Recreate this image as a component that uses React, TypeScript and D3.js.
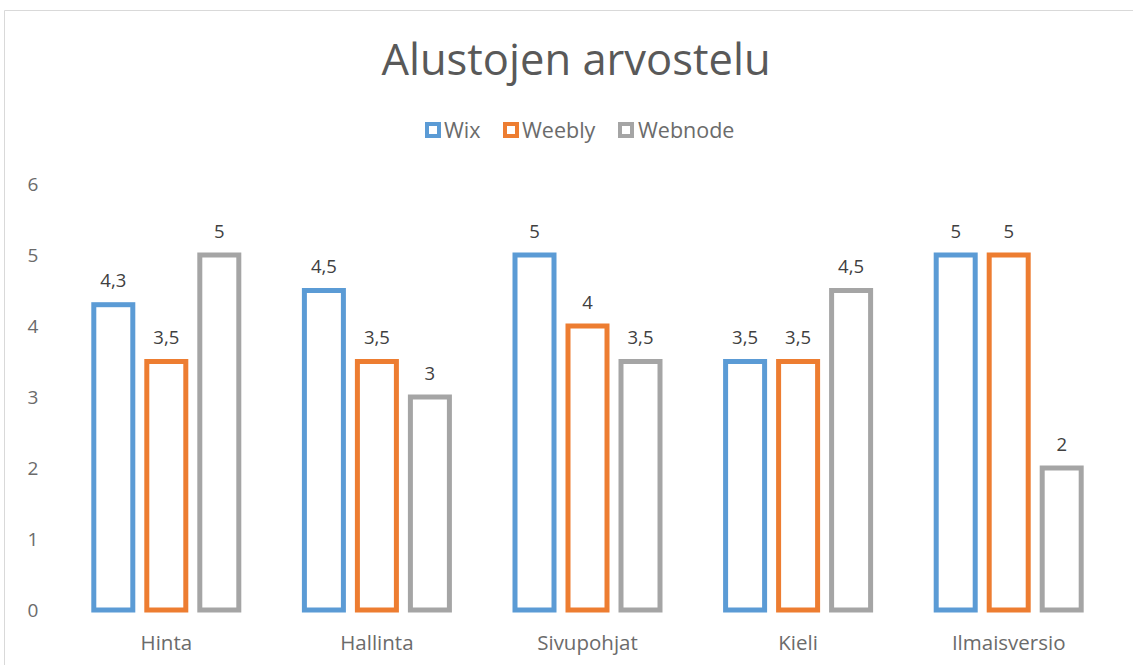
import * as d3 from 'd3';

const CATEGORIES = ['Hinta', 'Hallinta', 'Sivupohjat', 'Kieli', 'Ilmaisversio'];
const SERIES_NAMES = ['Wix', 'Weebly', 'Webnode'];
const WIX = [4.3, 4.5, 5, 3.5, 5];
const WEEBLY = [3.5, 3.5, 4, 3.5, 5];
const WEBNODE = [5, 3, 3.5, 4.5, 2];
const Y_TICKS = [0, 1, 2, 3, 4, 5, 6];

const COLOURS = ['#5B9BD5', '#ED7D31', '#A5A5A5'];
const FONT = '"Open Sans", "Noto Sans", sans-serif';

const W = 1133;
const H = 665;

export default function App() {
  const seriesValues = [WIX, WEEBLY, WEBNODE];

  const x = d3.scaleBand<string>().domain(CATEGORIES).range([61, 1114]);
  const inner = d3.scalePoint<string>().domain(SERIES_NAMES).range([-53, 53]);
  const y = d3.scaleLinear().domain([0, 6]).range([610, 184]);
  const barW = 39;
  const fmt = (v: number) => String(v).replace('.', ',');

  // legend layout (squares + labels)
  const legend = [
    { sq: 425, tx: 444 },
    { sq: 503, tx: 522 },
    { sq: 618, tx: 638 },
  ];

  return (
    <svg width={W} height={H} style={{ position: 'absolute', left: 0, top: 0 }} fontFamily={FONT}>
      <rect x={0} y={0} width={W} height={H} fill="#fff" />
      {/* chart frame, cropped */}
      <path d={`M4.5,${H} V10.5 H${W}`} fill="none" stroke="#D9D9D9" strokeWidth={1} />

      <text x={576} y={75} textAnchor="middle" fontSize={43.5} fill="#595959">
        Alustojen arvostelu
      </text>

      {SERIES_NAMES.map((name, i) => (
        <g key={name}>
          <rect x={legend[i].sq + 2} y={124} width={12} height={12} fill="#fff" stroke={COLOURS[i]} strokeWidth={4} />
          <text x={legend[i].tx} y={138} fontSize={21.5} fill="#6B6B6B">
            {name}
          </text>
        </g>
      ))}

      {Y_TICKS.map(t => (
        <text key={t} x={33} y={y(t) + 7} textAnchor="middle" fontSize={19} fill="#6B6B6B">
          {t}
        </text>
      ))}

      {CATEGORIES.map((c, ci) => {
        const cx = (x(c) ?? 0) + x.bandwidth() / 2;
        return (
          <g key={c}>
            {SERIES_NAMES.map((s, si) => {
              const v = seriesValues[si][ci];
              const bx = cx + (inner(s) ?? 0);
              return (
                <g key={s}>
                  <rect
                    x={bx - barW / 2}
                    y={y(v)}
                    width={barW}
                    height={y(0) - y(v)}
                    fill="#fff"
                    stroke={COLOURS[si]}
                    strokeWidth={5}
                  />
                  <text x={bx} y={y(v) - 17.5} textAnchor="middle" fontSize={18.5} fill="#404040">
                    {fmt(v)}
                  </text>
                </g>
              );
            })}
            <text x={cx} y={650} textAnchor="middle" fontSize={20.5} fill="#6B6B6B">
              {c}
            </text>
          </g>
        );
      })}
    </svg>
  );
}
